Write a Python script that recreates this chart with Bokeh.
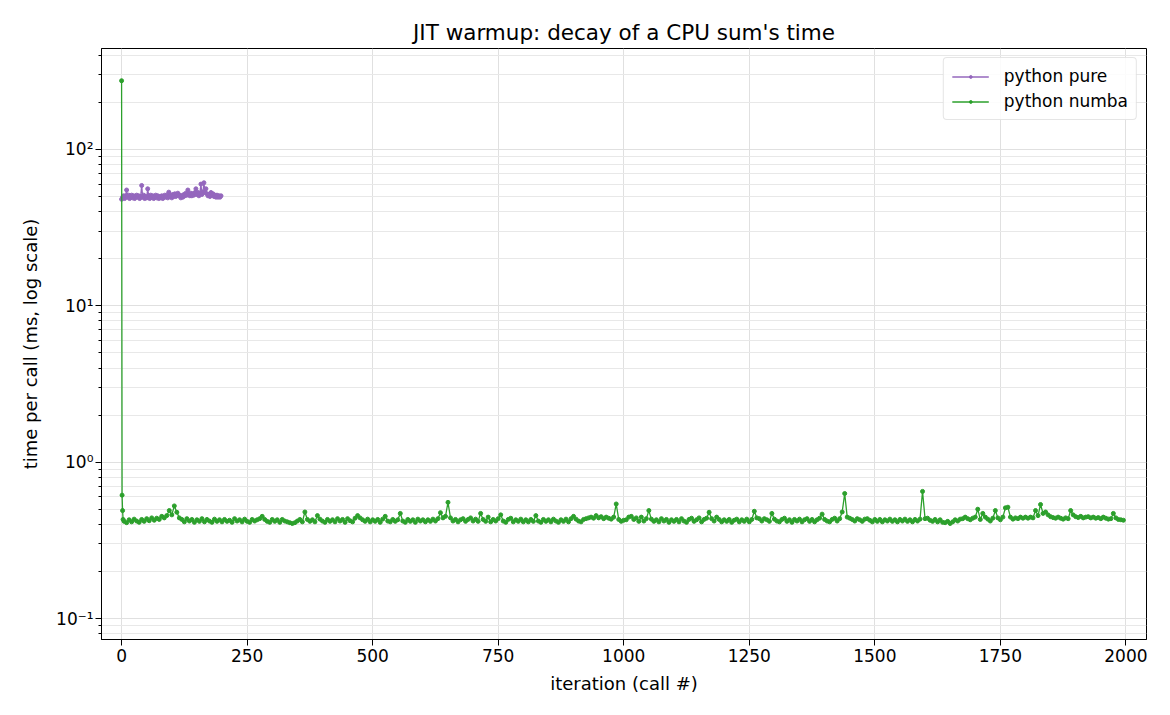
from bokeh.plotting import figure
from bokeh.models import (Range1d, FixedTicker, CustomJSTickFormatter, Legend, LegendItem)
from bokeh.embed import file_html
from bokeh.resources import INLINE

TITLE = "JIT warmup: decay of a CPU sum's time"
XLABEL = "iteration (call #)"
YLABEL = "time per call (ms, log scale)"
X_TICKS = [0, 250, 500, 750, 1000, 1250, 1500, 1750, 2000]
Y_MAJOR = [0.1, 1, 10, 100]
Y_MINOR = [0.08, 0.09, 0.2, 0.3, 0.4, 0.5, 0.6, 0.7, 0.8, 0.9,
           2, 3, 4, 5, 6, 7, 8, 9, 20, 30, 40, 50, 60, 70, 80, 90, 200, 300, 400]

# python pure: every 2nd iteration, 0..198
pure_iter = list(range(0, 200, 2))
pure_ms = [
    48, 49.5, 50.5, 48.5, 50.5, 55, 49.5, 51, 48.5, 50, 51, 49, 50.5, 48.5, 50, 51, 49.5, 50.5, 48.5, 50,
    58.8, 49.5, 51, 48.5, 50, 49, 56, 50.5, 48.5, 51, 49.5, 50.5, 48.5, 50, 51, 49, 50.5, 48.5, 50, 49,
    50.5, 48.5, 50, 51, 49.5, 51, 49, 53.3, 50, 51, 49, 51.5, 50, 52, 50, 51.5, 52.5, 50.5, 51, 49,
    50.5, 49.5, 51.5, 50.5, 52.5, 51, 55, 52, 50.5, 52.5, 50.5, 52, 51, 53, 56, 51.5, 53, 50.5, 52.5, 60,
    51.5, 53.5, 61.2, 53, 56, 52, 50.5, 51.5, 50, 53, 51.5, 52, 50, 51, 49.5, 51, 49.5, 50.5, 49.5, 50.5,
]

# python numba: first iterations, then every 5th iteration
numba_iter = [0, 1, 2, 3] + list(range(5, 2000, 5))
numba_ms = [275, 0.615, 0.49, 0.43] + [
    0.418, 0.41, 0.428, 0.415, 0.432, 0.42, 0.412, 0.43, 0.418, 0.435, 0.422, 0.44, 0.425, 0.438, 0.43, 0.45, 0.44, 0.455, 0.49, 0.46,
    0.525, 0.478, 0.44, 0.43, 0.415, 0.435, 0.42, 0.43, 0.412, 0.428, 0.418, 0.435, 0.415, 0.43, 0.42, 0.412, 0.432, 0.418, 0.428, 0.415,
    0.43, 0.418, 0.425, 0.412, 0.435, 0.42, 0.428, 0.415, 0.432, 0.418, 0.412, 0.43, 0.42, 0.428, 0.435, 0.45, 0.43, 0.418, 0.412, 0.43,
    0.418, 0.428, 0.412, 0.43, 0.42, 0.415, 0.41, 0.405, 0.41, 0.42, 0.43, 0.415, 0.48, 0.43, 0.418, 0.428, 0.415, 0.455, 0.432, 0.42,
    0.412, 0.43, 0.418, 0.428, 0.415, 0.435, 0.42, 0.43, 0.412, 0.435, 0.422, 0.415, 0.438, 0.455, 0.44, 0.428, 0.418, 0.432, 0.415, 0.428,
    0.418, 0.43, 0.412, 0.432, 0.45, 0.42, 0.415, 0.43, 0.418, 0.428, 0.47, 0.42, 0.412, 0.43, 0.418, 0.428, 0.412, 0.432, 0.42, 0.428,
    0.415, 0.428, 0.418, 0.432, 0.42, 0.435, 0.475, 0.44, 0.45, 0.553, 0.44, 0.42, 0.43, 0.415, 0.428, 0.435, 0.418, 0.43, 0.44, 0.42,
    0.432, 0.418, 0.47, 0.43, 0.418, 0.445, 0.415, 0.43, 0.42, 0.435, 0.46, 0.42, 0.412, 0.43, 0.438, 0.415, 0.428, 0.418, 0.432, 0.415,
    0.428, 0.415, 0.43, 0.418, 0.455, 0.42, 0.412, 0.43, 0.418, 0.428, 0.415, 0.432, 0.42, 0.412, 0.428, 0.418, 0.432, 0.415, 0.435, 0.45,
    0.432, 0.42, 0.415, 0.43, 0.435, 0.44, 0.445, 0.438, 0.455, 0.44, 0.448, 0.435, 0.445, 0.438, 0.432, 0.445, 0.54, 0.43, 0.418, 0.425,
    0.428, 0.445, 0.45, 0.43, 0.44, 0.418, 0.445, 0.42, 0.435, 0.49, 0.432, 0.418, 0.428, 0.415, 0.435, 0.42, 0.43, 0.412, 0.428, 0.418,
    0.43, 0.415, 0.435, 0.42, 0.412, 0.43, 0.438, 0.418, 0.428, 0.44, 0.415, 0.43, 0.438, 0.478, 0.435, 0.42, 0.445, 0.43, 0.415, 0.428,
    0.418, 0.43, 0.412, 0.425, 0.432, 0.415, 0.428, 0.418, 0.432, 0.415, 0.43, 0.485, 0.44, 0.435, 0.42, 0.435, 0.428, 0.418, 0.47, 0.432,
    0.42, 0.415, 0.43, 0.438, 0.418, 0.428, 0.412, 0.43, 0.42, 0.432, 0.415, 0.428, 0.435, 0.418, 0.43, 0.415, 0.428, 0.438, 0.465, 0.43,
    0.42, 0.415, 0.43, 0.438, 0.42, 0.435, 0.48, 0.63, 0.445, 0.438, 0.43, 0.42, 0.435, 0.428, 0.418, 0.432, 0.435, 0.425, 0.415, 0.43,
    0.418, 0.43, 0.415, 0.428, 0.42, 0.432, 0.418, 0.428, 0.415, 0.43, 0.42, 0.432, 0.418, 0.428, 0.415, 0.43, 0.42, 0.432, 0.65, 0.435,
    0.438, 0.425, 0.418, 0.43, 0.415, 0.428, 0.412, 0.41, 0.418, 0.405, 0.415, 0.428, 0.42, 0.432, 0.435, 0.445, 0.435, 0.428, 0.438, 0.445,
    0.50, 0.43, 0.47, 0.445, 0.432, 0.42, 0.438, 0.49, 0.44, 0.428, 0.445, 0.51, 0.515, 0.445, 0.432, 0.44, 0.435, 0.445, 0.438, 0.445,
    0.438, 0.445, 0.44, 0.49, 0.455, 0.536, 0.47, 0.48, 0.46, 0.448, 0.442, 0.438, 0.445, 0.438, 0.432, 0.44, 0.435, 0.49, 0.46, 0.448,
    0.442, 0.45, 0.44, 0.445, 0.448, 0.44, 0.445, 0.438, 0.442, 0.435, 0.445, 0.438, 0.432, 0.435, 0.47, 0.44, 0.43, 0.428, 0.425,
]

PURE_COLOR = "#9467bd"
NUMBA_COLOR = "#2ca02c"
FONT = "DejaVu Sans"

p = figure(frame_width=1045, frame_height=591, y_axis_type="log",
           x_range=Range1d(-40, 2041), y_range=Range1d(0.0734, 442),
           output_backend="svg", toolbar_location=None,
           min_border_left=101, min_border_right=16, min_border_top=48, min_border_bottom=66)

p.title.text = TITLE
p.title.align = "center"
p.title.text_font = FONT
p.title.text_font_size = "21.5px"
p.title.text_font_style = "normal"
p.title.text_color = "black"
p.title.standoff = 7

p.outline_line_color = "black"
p.outline_line_width = 1
p.background_fill_color = "white"
p.border_fill_color = "white"

p.xaxis.ticker = FixedTicker(ticks=X_TICKS)
p.yaxis.ticker = FixedTicker(ticks=Y_MAJOR, minor_ticks=Y_MINOR)
p.yaxis.formatter = CustomJSTickFormatter(code="""
const sup = {'-':'\u207b','0':'\u2070','1':'\u00b9','2':'\u00b2','3':'\u00b3','4':'\u2074','5':'\u2075','6':'\u2076','7':'\u2077','8':'\u2078','9':'\u2079'};
const e = Math.round(Math.log10(tick));
return '10' + String(e).split('').map(c => sup[c]).join('');
""")

for ax in (p.xaxis, p.yaxis):
    ax.axis_line_color = "black"
    ax.major_tick_line_color = "black"
    ax.minor_tick_line_color = "black"
    ax.major_tick_out = 6
    ax.major_tick_in = 0
    ax.minor_tick_out = 3
    ax.minor_tick_in = 0
    ax.major_label_standoff = 3
    ax.major_label_text_font = FONT
    ax.major_label_text_font_size = "17px"
    ax.major_label_text_color = "black"
    ax.axis_label_text_font = FONT
    ax.axis_label_text_font_size = "18px"
    ax.axis_label_text_font_style = "normal"
    ax.axis_label_text_color = "black"
p.yaxis.major_label_standoff = 2
p.xaxis.minor_tick_line_color = None
p.xaxis.axis_label = XLABEL
p.yaxis.axis_label = YLABEL
p.yaxis.axis_label_standoff = 12
p.xaxis.axis_label_standoff = 8

p.xgrid.grid_line_color = "#e0e0e0"
p.ygrid.grid_line_color = "#e0e0e0"
p.ygrid.minor_grid_line_color = "#e8e8e8"

l1 = p.line(pure_iter, pure_ms, line_color=PURE_COLOR, line_width=1.3)
s1 = p.scatter(pure_iter, pure_ms, size=4, fill_color=PURE_COLOR, line_color=PURE_COLOR)
l2 = p.line(numba_iter, numba_ms, line_color=NUMBA_COLOR, line_width=1.3)
s2 = p.scatter(numba_iter, numba_ms, size=4, fill_color=NUMBA_COLOR, line_color=NUMBA_COLOR)

legend = Legend(items=[LegendItem(label="python pure", renderers=[l1, s1]),
                       LegendItem(label="python numba", renderers=[l2, s2])],
                location="top_right")
legend.label_text_font = FONT
legend.label_text_font_size = "17px"
legend.label_text_color = "black"
legend.label_height = 20
legend.glyph_height = 7
legend.glyph_width = 37
legend.label_standoff = 15
legend.border_line_color = "#cccccc"
legend.border_radius = 4
legend.background_fill_alpha = 0.85
legend.margin = 9
legend.padding = 8
legend.spacing = 5
p.add_layout(legend)

open("out.html", "w").write(file_html(p, INLINE))
